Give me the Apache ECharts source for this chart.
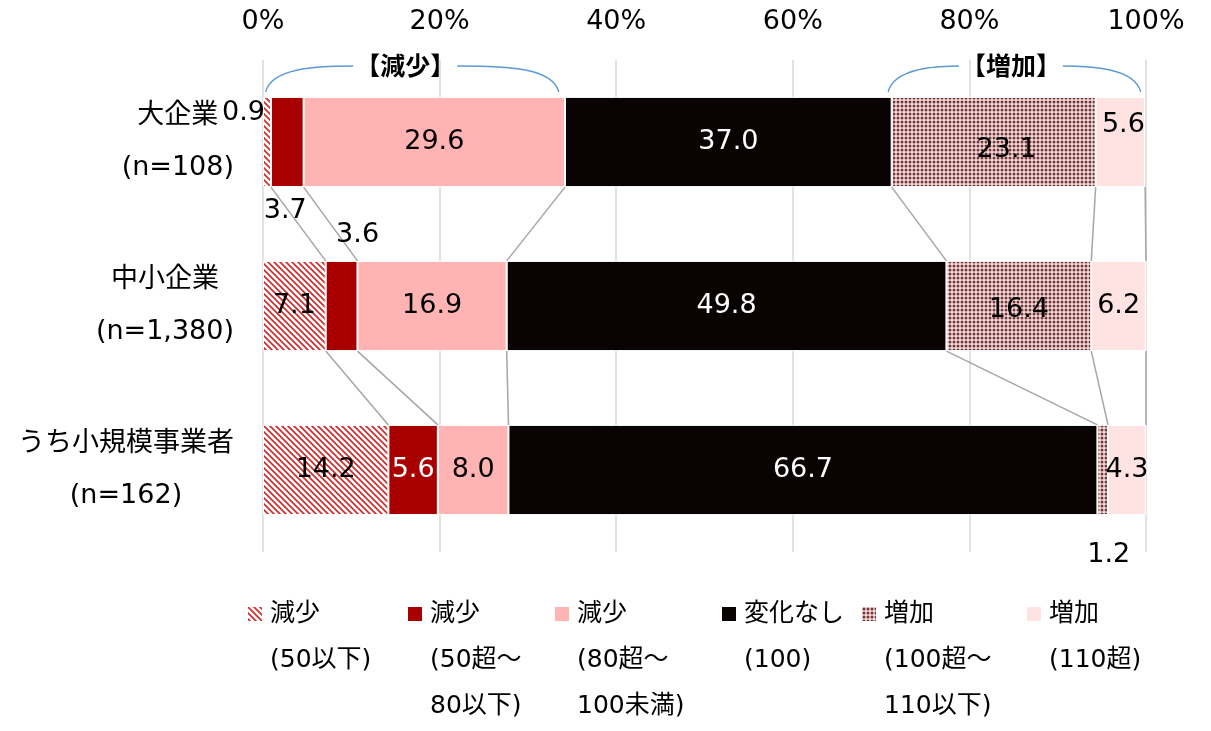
<!DOCTYPE html>
<html>
<head>
<meta charset="utf-8">
<script src="https://cdn.jsdelivr.net/npm/echarts@6/dist/echarts.min.js"></script>
<style>
  html, body { margin: 0; padding: 0; background: #ffffff; }
  #chart { width: 1211px; height: 731px; }
</style>
</head>
<body>
<div id="chart"></div>
<script>
// ---- data ----
const categories = ['大企業\n(n=108)', '中小企業\n(n=1,380)', 'うち小規模事業者\n(n=162)'];
const seriesNames = [
  '減少\n(50以下)',
  '減少\n(50超～\n80以下)',
  '減少\n(80超～\n100未満)',
  '変化なし\n(100)',
  '増加\n(100超～\n110以下)',
  '増加\n(110超)'
];
const decrease50 = [0.9, 7.1, 14.2];
const decrease50to80 = [3.7, 3.6, 5.6];
const decrease80to100 = [29.6, 16.9, 8.0];
const unchanged = [37.0, 49.8, 66.7];
const increase100to110 = [23.1, 16.4, 1.2];
const increase110 = [5.6, 6.2, 4.3];
const xTickMin = 0, xTickMax = 100, xTickStep = 20;
const brackets = [
  { text: '【減少】', from: 0.3, to: 33.5, mid: 16.1 },
  { text: '【増加】', from: 70.8, to: 99.4, mid: 84.7 }
];

const stacks = [decrease50, decrease50to80, decrease80to100, unchanged, increase100to110, increase110];

// ---- styling ----
const FONT = '"DejaVu Sans", "Noto Sans CJK JP", sans-serif';
const BAR_RATIO = 0.55;

function hatchPattern() {
  const c = document.createElement('canvas');
  c.width = 6; c.height = 6;
  const g = c.getContext('2d');
  g.fillStyle = '#ffffff';
  g.fillRect(0, 0, 6, 6);
  g.strokeStyle = '#D02828';
  g.lineWidth = 1.6;
  for (const k of [-6, 0, 6]) {
    g.beginPath();
    g.moveTo(-1, -1 + k);
    g.lineTo(7, 7 + k);
    g.stroke();
  }
  return c;
}
function dotPattern() {
  const c = document.createElement('canvas');
  c.width = 4; c.height = 4;
  const g = c.getContext('2d');
  g.fillStyle = '#F0DEDE';
  g.fillRect(0, 0, 4, 4);
  g.fillStyle = '#7A3535';
  g.beginPath();
  g.arc(2, 2, 1.5, 0, Math.PI * 2);
  g.fill();
  return c;
}

const seriesColors = [
  { image: hatchPattern(), repeat: 'repeat' },
  '#A80000',
  '#FFB3B3',
  '#0A0303',
  { image: dotPattern(), repeat: 'repeat' },
  '#FFE3E3'
];
const labelColors = ['#000', '#000', '#000', '#fff', '#000', '#000'];

// label placement for narrow segments, keyed "series-category"
const labelTweaks = {
  '0-0': { position: 'left', distance: 0, offset: [2, -29] },
  '1-0': { position: 'bottom', distance: 10, offset: [-2, 0] },
  '1-1': { position: 'top', distance: 12, offset: [16, 0] },
  '1-2': { color: '#fff' },
  '4-0': { offset: [13, 8] },
  '4-1': { offset: [0, 4] },
  '4-2': { position: 'bottom', distance: 26, offset: [6, 0] },
  '5-0': { offset: [3, -17] }
};

// connector lines between neighbouring bars at each cumulative boundary
function cumulative(ci) {
  let s = 0;
  return stacks.map(a => (s += a[ci]));
}
const connectors = [];
for (let ci = 0; ci < categories.length - 1; ci++) {
  const a = cumulative(ci), b = cumulative(ci + 1);
  for (let k = 0; k < a.length; k++) connectors.push([a[k], b[k], ci]);
}

const barSeries = stacks.map((vals, si) => ({
  name: seriesNames[si],
  type: 'bar',
  stack: 'total',
  barWidth: (BAR_RATIO * 100) + '%',
  z: 3,
  itemStyle: { color: seriesColors[si], borderColor: '#ffffff', borderWidth: 1 },
  label: {
    show: true,
    position: 'inside',
    color: labelColors[si],
    fontSize: 27,
    fontFamily: FONT,
    formatter: p => p.value.toFixed(1)
  },
  data: vals.map((v, ci) => {
    const t = labelTweaks[si + '-' + ci];
    return t ? { value: v, label: t } : { value: v };
  })
}));

const connectorSeries = {
  type: 'custom',
  coordinateSystem: 'cartesian2d',
  silent: true,
  z: 1,
  encode: { x: [0, 1], y: 2 },
  data: connectors,
  renderItem(params, api) {
    const c = api.value(2);
    const p1 = api.coord([api.value(0), c]);
    const p2 = api.coord([api.value(1), c + 1]);
    const half = api.size([0, 1])[1] * BAR_RATIO / 2;
    return {
      type: 'line',
      shape: { x1: p1[0], y1: p1[1] + half, x2: p2[0], y2: p2[1] - half },
      style: { stroke: '#A6A6A6', lineWidth: 1.5 }
    };
  }
};

// one legend per entry; blank lines above keep the first text line level with the icon
const legendLefts = [248, 408, 555, 722, 862, 1027];
const LEG_LINE = 46, LEG_ROW = 614;
const legends = seriesNames.map((n, i) => {
  const lines = n.split('\n').length;
  const boxH = (2 * lines - 1) * LEG_LINE;
  return {
    data: [n],
    left: legendLefts[i],
    top: LEG_ROW - boxH / 2,
    padding: 0,
    icon: 'rect',
    itemWidth: 14,
    itemHeight: 14,
    selectedMode: false,
    itemStyle: { borderWidth: 0 },
    formatter: name => '\n'.repeat(lines - 1) + name,
    textStyle: {
      fontSize: 25,
      lineHeight: LEG_LINE,
      color: '#000',
      fontFamily: FONT,
      padding: [0, 0, 0, 3]
    }
  };
});

const option = {
  backgroundColor: '#ffffff',
  animation: false,
  grid: { left: 263, right: 65, top: 60, bottom: 179, containLabel: false },
  xAxis: {
    type: 'value',
    position: 'top',
    min: xTickMin,
    max: xTickMax,
    interval: xTickStep,
    axisLine: { show: false },
    axisTick: { show: false },
    splitLine: { show: true, lineStyle: { color: '#D9D9D9', width: 1.5 } },
    axisLabel: { formatter: '{value}%', fontSize: 27, color: '#000', fontFamily: FONT, margin: 25 }
  },
  yAxis: {
    type: 'category',
    inverse: true,
    data: categories,
    axisLine: { show: false },
    axisTick: { show: false },
    axisLabel: {
      margin: 29,
      formatter: v => v.split('\n').map(s => '{c|' + s + '}').join('\n'),
      rich: { c: { fontSize: 27, lineHeight: 52, color: '#000', fontFamily: FONT, align: 'center' } }
    }
  },
  legend: legends,
  series: [connectorSeries].concat(barSeries)
};

const chart = echarts.init(document.getElementById('chart'));
chart.setOption(option);

// bracket annotations above the decrease / increase groups
const braceTop = 66, braceEnd = 92, textY = 68, gapHalf = 52;
const graphics = [];
brackets.forEach(b => {
  const x0 = chart.convertToPixel({ xAxisIndex: 0 }, b.from);
  const x1 = chart.convertToPixel({ xAxisIndex: 0 }, b.to);
  const xm = chart.convertToPixel({ xAxisIndex: 0 }, b.mid);
  const lineStyle = { stroke: '#5B9BD5', lineWidth: 1.3, fill: null };
  graphics.push({
    type: 'bezierCurve', silent: true,
    shape: { x1: x0, y1: braceEnd, cpx1: x0 + 6, cpy1: braceTop + 2, cpx2: x0 + 50, cpy2: braceTop, x2: xm - gapHalf, y2: braceTop },
    style: lineStyle
  });
  graphics.push({
    type: 'bezierCurve', silent: true,
    shape: { x1: xm + gapHalf, y1: braceTop, cpx1: x1 - 50, cpy1: braceTop, cpx2: x1 - 6, cpy2: braceTop + 2, x2: x1, y2: braceEnd },
    style: lineStyle
  });
  graphics.push({
    type: 'text', silent: true,
    x: xm, y: textY,
    style: { text: b.text, fontSize: 25, fontWeight: 'bold', fontFamily: FONT, fill: '#000', align: 'center', verticalAlign: 'middle' }
  });
});
chart.setOption({ graphic: graphics });
</script>
</body>
</html>
